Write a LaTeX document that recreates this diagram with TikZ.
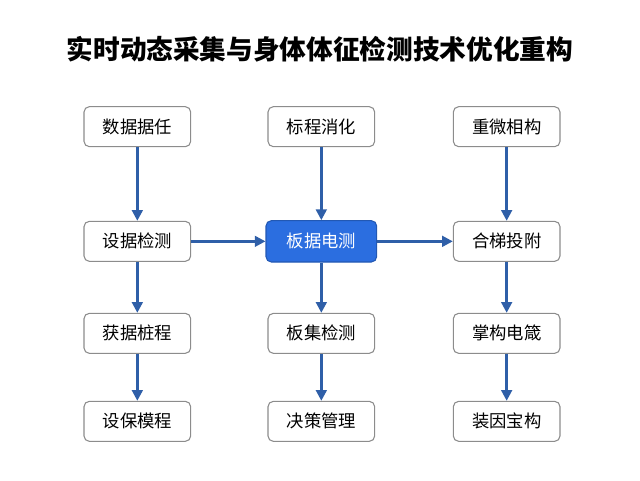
\documentclass[tikz,border=0pt]{standalone}
\usepackage{fontspec}
\setmainfont{Noto Sans CJK SC}
\usetikzlibrary{arrows.meta}
\definecolor{arr}{HTML}{2F5FA8}
\definecolor{hb}{HTML}{2B6EE0}
\begin{document}
\begin{tikzpicture}[x=1pt,y=-1pt,
 box/.style={draw=black!45,line width=0.8pt,rounded corners=4pt,fill=white,minimum width=80pt,minimum height=30pt,font=\fontsize{13}{15}\selectfont},
 hl/.style={box,draw=hb!80!black,fill=hb,text=white,minimum width=83pt,minimum height=31pt},
 ar/.style={draw=arr,line width=1.8pt,-{Triangle[length=8pt,width=8pt]}}]
\useasboundingbox (0,0) rectangle (480,360);
\node[font=\bfseries\fontsize{20}{22}\selectfont] (t) at (240,37) {实时动态采集与身体体征检测技术优化重构};
\node[box] (a1) at (103,95) {数据据任};
\node[box] (a2) at (103,181) {设据检测};
\node[box] (a3) at (103,250) {获据桩程};
\node[box] (a4) at (103,316) {设保模程};
\node[box] (b1) at (241,95) {标程消化};
\node[hl] (b2) at (241,181) {板据电测};
\node[box] (b3) at (241,250) {板集检测};
\node[box] (b4) at (241,316) {决策管理};
\node[box] (c1) at (380,95) {重微相构};
\node[box] (c2) at (380,181) {合梯投附};
\node[box] (c3) at (380,250) {掌构电箴};
\node[box] (c4) at (380,316) {装因宝构};
\foreach \c in {a,b,c}{
 \draw[ar] (\c1) -- (\c2);
 \draw[ar] (\c2) -- (\c3);
 \draw[ar] (\c3) -- (\c4);}
\draw[ar] (a2) -- (b2);
\draw[ar] (b2) -- (c2);
\end{tikzpicture}
\end{document}
